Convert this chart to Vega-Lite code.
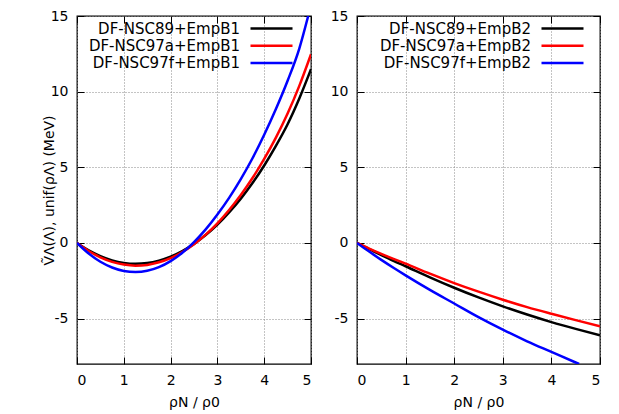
{
  "$schema": "https://vega.github.io/schema/vega-lite/v6.json",
  "padding": {"left": 41, "top": 8, "right": 5, "bottom": 5},
  "spacing": 46,
  "bounds": "flush",
  "config": {
    "font": "DejaVu Sans",
    "view": {"stroke": "#000", "strokeWidth": 1.3},
    "axis": {
      "domain": false,
      "grid": true,
      "gridColor": "#888",
      "gridDash": [1, 2],
      "gridWidth": 1,
      "tickColor": "#000",
      "tickSize": -7,
      "tickWidth": 1,
      "labelFontSize": 14,
      "labelColor": "#000",
      "labelPadding": 16,
      "titleFontSize": 14,
      "titleFontWeight": "normal",
      "titleColor": "#000"
    },
    "line": {"strokeWidth": 2.5}
  },
  "datasets": {
    "b1": [
      {"model": "DF-NSC89+EmpB1", "x": 0, "y": 0},
      {"model": "DF-NSC89+EmpB1", "x": 0.25, "y": -0.49},
      {"model": "DF-NSC89+EmpB1", "x": 0.5, "y": -0.87},
      {"model": "DF-NSC89+EmpB1", "x": 0.75, "y": -1.15},
      {"model": "DF-NSC89+EmpB1", "x": 1, "y": -1.32},
      {"model": "DF-NSC89+EmpB1", "x": 1.25, "y": -1.38},
      {"model": "DF-NSC89+EmpB1", "x": 1.5, "y": -1.33},
      {"model": "DF-NSC89+EmpB1", "x": 1.75, "y": -1.17},
      {"model": "DF-NSC89+EmpB1", "x": 2, "y": -0.91},
      {"model": "DF-NSC89+EmpB1", "x": 2.25, "y": -0.54},
      {"model": "DF-NSC89+EmpB1", "x": 2.5, "y": -0.06},
      {"model": "DF-NSC89+EmpB1", "x": 2.75, "y": 0.52},
      {"model": "DF-NSC89+EmpB1", "x": 3, "y": 1.21},
      {"model": "DF-NSC89+EmpB1", "x": 3.25, "y": 2.02},
      {"model": "DF-NSC89+EmpB1", "x": 3.5, "y": 2.93},
      {"model": "DF-NSC89+EmpB1", "x": 3.75, "y": 3.96},
      {"model": "DF-NSC89+EmpB1", "x": 4, "y": 5.12},
      {"model": "DF-NSC89+EmpB1", "x": 4.25, "y": 6.42},
      {"model": "DF-NSC89+EmpB1", "x": 4.5, "y": 7.85},
      {"model": "DF-NSC89+EmpB1", "x": 4.75, "y": 9.55},
      {"model": "DF-NSC89+EmpB1", "x": 5, "y": 11.49},
      {"model": "DF-NSC97a+EmpB1", "x": 0, "y": 0},
      {"model": "DF-NSC97a+EmpB1", "x": 0.25, "y": -0.53},
      {"model": "DF-NSC97a+EmpB1", "x": 0.5, "y": -0.95},
      {"model": "DF-NSC97a+EmpB1", "x": 0.75, "y": -1.25},
      {"model": "DF-NSC97a+EmpB1", "x": 1, "y": -1.43},
      {"model": "DF-NSC97a+EmpB1", "x": 1.25, "y": -1.5},
      {"model": "DF-NSC97a+EmpB1", "x": 1.5, "y": -1.45},
      {"model": "DF-NSC97a+EmpB1", "x": 1.75, "y": -1.28},
      {"model": "DF-NSC97a+EmpB1", "x": 2, "y": -1.0},
      {"model": "DF-NSC97a+EmpB1", "x": 2.25, "y": -0.6},
      {"model": "DF-NSC97a+EmpB1", "x": 2.5, "y": -0.08},
      {"model": "DF-NSC97a+EmpB1", "x": 2.75, "y": 0.55},
      {"model": "DF-NSC97a+EmpB1", "x": 3, "y": 1.3},
      {"model": "DF-NSC97a+EmpB1", "x": 3.25, "y": 2.18},
      {"model": "DF-NSC97a+EmpB1", "x": 3.5, "y": 3.17},
      {"model": "DF-NSC97a+EmpB1", "x": 3.75, "y": 4.29},
      {"model": "DF-NSC97a+EmpB1", "x": 4, "y": 5.55},
      {"model": "DF-NSC97a+EmpB1", "x": 4.25, "y": 6.96},
      {"model": "DF-NSC97a+EmpB1", "x": 4.5, "y": 8.55},
      {"model": "DF-NSC97a+EmpB1", "x": 4.75, "y": 10.38},
      {"model": "DF-NSC97a+EmpB1", "x": 5, "y": 12.47},
      {"model": "DF-NSC97f+EmpB1", "x": 0, "y": 0},
      {"model": "DF-NSC97f+EmpB1", "x": 0.25, "y": -0.7},
      {"model": "DF-NSC97f+EmpB1", "x": 0.5, "y": -1.24},
      {"model": "DF-NSC97f+EmpB1", "x": 0.75, "y": -1.62},
      {"model": "DF-NSC97f+EmpB1", "x": 1, "y": -1.85},
      {"model": "DF-NSC97f+EmpB1", "x": 1.25, "y": -1.92},
      {"model": "DF-NSC97f+EmpB1", "x": 1.5, "y": -1.84},
      {"model": "DF-NSC97f+EmpB1", "x": 1.75, "y": -1.6},
      {"model": "DF-NSC97f+EmpB1", "x": 2, "y": -1.2},
      {"model": "DF-NSC97f+EmpB1", "x": 2.25, "y": -0.65},
      {"model": "DF-NSC97f+EmpB1", "x": 2.5, "y": 0.06},
      {"model": "DF-NSC97f+EmpB1", "x": 2.75, "y": 0.9},
      {"model": "DF-NSC97f+EmpB1", "x": 3, "y": 1.88},
      {"model": "DF-NSC97f+EmpB1", "x": 3.25, "y": 2.98},
      {"model": "DF-NSC97f+EmpB1", "x": 3.5, "y": 4.22},
      {"model": "DF-NSC97f+EmpB1", "x": 3.75, "y": 5.6},
      {"model": "DF-NSC97f+EmpB1", "x": 4, "y": 7.15},
      {"model": "DF-NSC97f+EmpB1", "x": 4.25, "y": 8.85},
      {"model": "DF-NSC97f+EmpB1", "x": 4.5, "y": 10.72},
      {"model": "DF-NSC97f+EmpB1", "x": 4.75, "y": 12.85},
      {"model": "DF-NSC97f+EmpB1", "x": 4.94, "y": 15.0}
    ],
    "b2": [
      {"model": "DF-NSC89+EmpB2", "x": 0, "y": 0},
      {"model": "DF-NSC89+EmpB2", "x": 0.25, "y": -0.41},
      {"model": "DF-NSC89+EmpB2", "x": 0.5, "y": -0.8},
      {"model": "DF-NSC89+EmpB2", "x": 0.75, "y": -1.18},
      {"model": "DF-NSC89+EmpB2", "x": 1, "y": -1.54},
      {"model": "DF-NSC89+EmpB2", "x": 1.5, "y": -2.27},
      {"model": "DF-NSC89+EmpB2", "x": 2, "y": -2.96},
      {"model": "DF-NSC89+EmpB2", "x": 2.5, "y": -3.6},
      {"model": "DF-NSC89+EmpB2", "x": 3, "y": -4.19},
      {"model": "DF-NSC89+EmpB2", "x": 3.5, "y": -4.73},
      {"model": "DF-NSC89+EmpB2", "x": 4, "y": -5.23},
      {"model": "DF-NSC89+EmpB2", "x": 4.5, "y": -5.68},
      {"model": "DF-NSC89+EmpB2", "x": 5, "y": -6.1},
      {"model": "DF-NSC97a+EmpB2", "x": 0, "y": 0},
      {"model": "DF-NSC97a+EmpB2", "x": 0.25, "y": -0.37},
      {"model": "DF-NSC97a+EmpB2", "x": 0.5, "y": -0.72},
      {"model": "DF-NSC97a+EmpB2", "x": 0.75, "y": -1.05},
      {"model": "DF-NSC97a+EmpB2", "x": 1, "y": -1.37},
      {"model": "DF-NSC97a+EmpB2", "x": 1.5, "y": -2.03},
      {"model": "DF-NSC97a+EmpB2", "x": 2, "y": -2.65},
      {"model": "DF-NSC97a+EmpB2", "x": 2.5, "y": -3.22},
      {"model": "DF-NSC97a+EmpB2", "x": 3, "y": -3.75},
      {"model": "DF-NSC97a+EmpB2", "x": 3.5, "y": -4.24},
      {"model": "DF-NSC97a+EmpB2", "x": 4, "y": -4.68},
      {"model": "DF-NSC97a+EmpB2", "x": 4.5, "y": -5.1},
      {"model": "DF-NSC97a+EmpB2", "x": 5, "y": -5.5},
      {"model": "DF-NSC97f+EmpB2", "x": 0, "y": 0},
      {"model": "DF-NSC97f+EmpB2", "x": 0.25, "y": -0.57},
      {"model": "DF-NSC97f+EmpB2", "x": 0.5, "y": -1.12},
      {"model": "DF-NSC97f+EmpB2", "x": 0.75, "y": -1.64},
      {"model": "DF-NSC97f+EmpB2", "x": 1, "y": -2.14},
      {"model": "DF-NSC97f+EmpB2", "x": 1.5, "y": -3.1},
      {"model": "DF-NSC97f+EmpB2", "x": 2, "y": -4.0},
      {"model": "DF-NSC97f+EmpB2", "x": 2.5, "y": -4.9},
      {"model": "DF-NSC97f+EmpB2", "x": 3, "y": -5.73},
      {"model": "DF-NSC97f+EmpB2", "x": 3.5, "y": -6.5},
      {"model": "DF-NSC97f+EmpB2", "x": 4, "y": -7.2},
      {"model": "DF-NSC97f+EmpB2", "x": 4.5, "y": -7.9},
      {"model": "DF-NSC97f+EmpB2", "x": 4.57, "y": -8.0}
    ]
  },
  "resolve": {"scale": {"color": "independent"}, "legend": {"color": "independent"}},
  "hconcat": [
    {
      "width": 234,
      "height": 348,
      "data": {"name": "b1"},
      "layer": [
        {
          "mark": {"type": "line", "clip": true, "interpolate": "monotone"},
          "encoding": {
            "x": {"field": "x", "type": "quantitative",
                  "scale": {"domain": [0, 5], "nice": false},
                  "axis": {"values": [0, 1, 2, 3, 4, 5], "title": "ρN / ρ0", "titlePadding": 8}},
            "y": {"field": "y", "type": "quantitative",
                  "scale": {"domain": [-8, 15], "nice": false},
                  "axis": {"values": [-5, 0, 5, 10, 15], "labelExpr": "'' + datum.value", "title": "ṼΛ(Λ), unif(ρΛ)  (MeV)", "titleX": -28, "titleBaseline": "middle"}},
            "color": {"field": "model", "type": "nominal",
                      "scale": {"domain": ["DF-NSC89+EmpB1", "DF-NSC97a+EmpB1", "DF-NSC97f+EmpB1"], "range": ["#000000", "#ff0000", "#0000ff"]},
                      "legend": {"orient": "none", "legendX": 185.5, "legendY": 3.5, "title": null, "symbolType": "M-2.8,0H2.8", "symbolSize": 225, "symbolStrokeWidth": 2.5, "labelAlign": "right", "labelOffset": -40.5, "labelFontSize": 15, "labelColor": "#000", "rowPadding": 0.3, "padding": 0, "labelLimit": 300}}
          }
        },
        {
          "mark": {"type": "line", "opacity": 0},
          "encoding": {
            "x": {"field": "x", "type": "quantitative",
                  "axis": {"orient": "top", "values": [0, 1, 2, 3, 4, 5], "labels": false, "grid": false, "title": null}},
            "y": {"field": "y", "type": "quantitative",
                  "axis": {"orient": "right", "values": [-5, 0, 5, 10, 15], "labels": false, "grid": false, "title": null}}
          }
        }
      ],
      "resolve": {"axis": {"x": "independent", "y": "independent"}}
    },
    {
      "width": 243,
      "height": 348,
      "data": {"name": "b2"},
      "layer": [
        {
          "mark": {"type": "line", "clip": true, "interpolate": "monotone"},
          "encoding": {
            "x": {"field": "x", "type": "quantitative",
                  "scale": {"domain": [0, 5], "nice": false},
                  "axis": {"values": [0, 1, 2, 3, 4, 5], "title": "ρN / ρ0", "titlePadding": 8}},
            "y": {"field": "y", "type": "quantitative",
                  "scale": {"domain": [-8, 15], "nice": false},
                  "axis": {"values": [-5, 0, 5, 10, 15], "labelExpr": "'' + datum.value", "title": null}},
            "color": {"field": "model", "type": "nominal",
                      "scale": {"domain": ["DF-NSC89+EmpB2", "DF-NSC97a+EmpB2", "DF-NSC97f+EmpB2"], "range": ["#000000", "#ff0000", "#0000ff"]},
                      "legend": {"orient": "none", "legendX": 196.5, "legendY": 3.5, "title": null, "symbolType": "M-2.8,0H2.8", "symbolSize": 225, "symbolStrokeWidth": 2.5, "labelAlign": "right", "labelOffset": -40.5, "labelFontSize": 15, "labelColor": "#000", "rowPadding": 0.3, "padding": 0, "labelLimit": 300}}
          }
        },
        {
          "mark": {"type": "line", "opacity": 0},
          "encoding": {
            "x": {"field": "x", "type": "quantitative",
                  "axis": {"orient": "top", "values": [0, 1, 2, 3, 4, 5], "labels": false, "grid": false, "title": null}},
            "y": {"field": "y", "type": "quantitative",
                  "axis": {"orient": "right", "values": [-5, 0, 5, 10, 15], "labels": false, "grid": false, "title": null}}
          }
        }
      ],
      "resolve": {"axis": {"x": "independent", "y": "independent"}}
    }
  ]
}
